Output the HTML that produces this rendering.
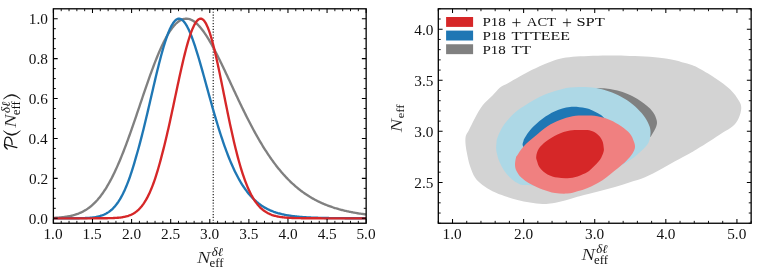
<!DOCTYPE html>
<html><head><meta charset="utf-8"><title>Neff posteriors</title>
<style>html,body{margin:0;padding:0;background:#fff;}svg{display:block;will-change:transform;}body{font-family:"Liberation Serif",serif;}</style>
</head><body>
<svg width="759" height="272" viewBox="0 0 759 272">
<rect width="759" height="272" fill="#fff"/>
<defs><clipPath id="cl"><rect x="53.4" y="8.8" width="312.75" height="214.45"/></clipPath>
<clipPath id="cr"><rect x="438.3" y="8.8" width="312.84999999999997" height="214.45"/></clipPath></defs>
<g clip-path="url(#cl)" fill="none" stroke-width="2.35" stroke-linejoin="round">
<line x1="213.22" y1="8.8" x2="213.22" y2="223.25" stroke="#111" stroke-width="1.15" stroke-dasharray="1.15,1.7"/>
<path d="M53.40,217.90 L54.18,217.86 L54.96,217.82 L55.75,217.78 L56.53,217.73 L57.31,217.68 L58.09,217.62 L58.87,217.56 L59.66,217.50 L60.44,217.43 L61.22,217.35 L62.00,217.27 L62.78,217.18 L63.56,217.09 L64.35,216.99 L65.13,216.89 L65.91,216.77 L66.69,216.65 L67.47,216.52 L68.26,216.39 L69.04,216.24 L69.82,216.08 L70.60,215.92 L71.38,215.74 L72.16,215.55 L72.95,215.35 L73.73,215.14 L74.51,214.92 L75.29,214.68 L76.07,214.43 L76.86,214.16 L77.64,213.88 L78.42,213.59 L79.20,213.28 L79.98,212.95 L80.77,212.60 L81.55,212.24 L82.33,211.86 L83.11,211.45 L83.89,211.03 L84.67,210.59 L85.46,210.13 L86.24,209.64 L87.02,209.13 L87.80,208.60 L88.58,208.05 L89.37,207.47 L90.15,206.86 L90.93,206.23 L91.71,205.57 L92.49,204.89 L93.28,204.17 L94.06,203.43 L94.84,202.66 L95.62,201.86 L96.40,201.03 L97.19,200.17 L97.97,199.28 L98.75,198.35 L99.53,197.40 L100.31,196.41 L101.09,195.38 L101.88,194.33 L102.66,193.24 L103.44,192.12 L104.22,190.96 L105.00,189.76 L105.79,188.54 L106.57,187.27 L107.35,185.97 L108.13,184.64 L108.91,183.27 L109.69,181.86 L110.48,180.42 L111.26,178.95 L112.04,177.43 L112.82,175.89 L113.60,174.30 L114.39,172.69 L115.17,171.04 L115.95,169.35 L116.73,167.63 L117.51,165.88 L118.30,164.09 L119.08,162.27 L119.86,160.42 L120.64,158.54 L121.42,156.63 L122.20,154.68 L122.99,152.71 L123.77,150.71 L124.55,148.69 L125.33,146.63 L126.11,144.56 L126.90,142.45 L127.68,140.33 L128.46,138.18 L129.24,136.01 L130.02,133.82 L130.81,131.62 L131.59,129.39 L132.37,127.15 L133.15,124.90 L133.93,122.63 L134.72,120.35 L135.50,118.06 L136.28,115.77 L137.06,113.46 L137.84,111.15 L138.62,108.84 L139.41,106.52 L140.19,104.20 L140.97,101.88 L141.75,99.57 L142.53,97.25 L143.32,94.95 L144.10,92.65 L144.88,90.36 L145.66,88.08 L146.44,85.81 L147.23,83.56 L148.01,81.32 L148.79,79.10 L149.57,76.90 L150.35,74.72 L151.13,72.56 L151.92,70.43 L152.70,68.32 L153.48,66.23 L154.26,64.18 L155.04,62.16 L155.83,60.16 L156.61,58.20 L157.39,56.28 L158.17,54.39 L158.95,52.54 L159.74,50.73 L160.52,48.95 L161.30,47.22 L162.08,45.53 L162.86,43.89 L163.64,42.28 L164.43,40.73 L165.21,39.22 L165.99,37.76 L166.77,36.35 L167.55,34.99 L168.34,33.68 L169.12,32.42 L169.90,31.21 L170.68,30.05 L171.46,28.95 L172.25,27.91 L173.03,26.91 L173.81,25.98 L174.59,25.09 L175.37,24.27 L176.15,23.50 L176.94,22.79 L177.72,22.13 L178.50,21.54 L179.28,20.99 L180.06,20.51 L180.85,20.08 L181.63,19.72 L182.41,19.40 L183.19,19.15 L183.97,18.95 L184.75,18.81 L185.54,18.73 L186.32,18.70 L187.10,18.73 L187.88,18.82 L188.66,18.97 L189.45,19.17 L190.23,19.43 L191.01,19.75 L191.79,20.12 L192.57,20.54 L193.36,21.02 L194.14,21.55 L194.92,22.13 L195.70,22.76 L196.48,23.44 L197.26,24.17 L198.05,24.94 L198.83,25.76 L199.61,26.62 L200.39,27.52 L201.17,28.47 L201.96,29.46 L202.74,30.48 L203.52,31.55 L204.30,32.65 L205.08,33.79 L205.87,34.96 L206.65,36.16 L207.43,37.40 L208.21,38.67 L208.99,39.96 L209.78,41.29 L210.56,42.64 L211.34,44.02 L212.12,45.43 L212.90,46.85 L213.68,48.30 L214.47,49.77 L215.25,51.26 L216.03,52.77 L216.81,54.30 L217.59,55.85 L218.38,57.41 L219.16,58.98 L219.94,60.57 L220.72,62.17 L221.50,63.79 L222.29,65.41 L223.07,67.05 L223.85,68.69 L224.63,70.34 L225.41,71.99 L226.19,73.66 L226.98,75.32 L227.76,76.99 L228.54,78.67 L229.32,80.35 L230.10,82.02 L230.89,83.70 L231.67,85.38 L232.45,87.06 L233.23,88.74 L234.01,90.41 L234.79,92.09 L235.58,93.75 L236.36,95.42 L237.14,97.08 L237.92,98.73 L238.70,100.38 L239.49,102.02 L240.27,103.66 L241.05,105.29 L241.83,106.91 L242.61,108.52 L243.40,110.12 L244.18,111.71 L244.96,113.30 L245.74,114.87 L246.52,116.43 L247.31,117.98 L248.09,119.52 L248.87,121.05 L249.65,122.57 L250.43,124.07 L251.21,125.56 L252.00,127.04 L252.78,128.50 L253.56,129.96 L254.34,131.39 L255.12,132.82 L255.91,134.23 L256.69,135.63 L257.47,137.01 L258.25,138.38 L259.03,139.73 L259.81,141.07 L260.60,142.39 L261.38,143.70 L262.16,144.99 L262.94,146.27 L263.72,147.54 L264.51,148.79 L265.29,150.02 L266.07,151.24 L266.85,152.44 L267.63,153.63 L268.42,154.80 L269.20,155.95 L269.98,157.09 L270.76,158.22 L271.54,159.33 L272.32,160.43 L273.11,161.50 L273.89,162.57 L274.67,163.62 L275.45,164.65 L276.23,165.67 L277.02,166.68 L277.80,167.67 L278.58,168.64 L279.36,169.60 L280.14,170.54 L280.93,171.47 L281.71,172.39 L282.49,173.29 L283.27,174.18 L284.05,175.05 L284.83,175.91 L285.62,176.76 L286.40,177.59 L287.18,178.41 L287.96,179.21 L288.74,180.00 L289.53,180.78 L290.31,181.54 L291.09,182.30 L291.87,183.03 L292.65,183.76 L293.44,184.47 L294.22,185.17 L295.00,185.86 L295.78,186.54 L296.56,187.20 L297.35,187.86 L298.13,188.50 L298.91,189.13 L299.69,189.74 L300.47,190.35 L301.25,190.94 L302.04,191.53 L302.82,192.10 L303.60,192.66 L304.38,193.22 L305.16,193.76 L305.95,194.29 L306.73,194.81 L307.51,195.32 L308.29,195.82 L309.07,196.31 L309.85,196.80 L310.64,197.27 L311.42,197.73 L312.20,198.19 L312.98,198.63 L313.76,199.07 L314.55,199.50 L315.33,199.92 L316.11,200.33 L316.89,200.73 L317.67,201.13 L318.46,201.51 L319.24,201.89 L320.02,202.26 L320.80,202.63 L321.58,202.98 L322.36,203.33 L323.15,203.67 L323.93,204.01 L324.71,204.33 L325.49,204.65 L326.27,204.97 L327.06,205.27 L327.84,205.57 L328.62,205.87 L329.40,206.16 L330.18,206.44 L330.97,206.71 L331.75,206.98 L332.53,207.25 L333.31,207.51 L334.09,207.76 L334.87,208.01 L335.66,208.25 L336.44,208.49 L337.22,208.72 L338.00,208.94 L338.78,209.17 L339.57,209.38 L340.35,209.59 L341.13,209.80 L341.91,210.00 L342.69,210.20 L343.48,210.39 L344.26,210.58 L345.04,210.77 L345.82,210.95 L346.60,211.13 L347.38,211.30 L348.17,211.47 L348.95,211.63 L349.73,211.80 L350.51,211.95 L351.29,212.11 L352.08,212.26 L352.86,212.40 L353.64,212.55 L354.42,212.69 L355.20,212.83 L355.99,212.96 L356.77,213.09 L357.55,213.22 L358.33,213.34 L359.11,213.47 L359.89,213.58 L360.68,213.70 L361.46,213.81 L362.24,213.93 L363.02,214.03 L363.80,214.14 L364.59,214.24 L365.37,214.34 L366.15,214.44" stroke="#808080"/>
<path d="M53.40,218.30 L54.18,218.30 L54.96,218.30 L55.75,218.30 L56.53,218.30 L57.31,218.30 L58.09,218.30 L58.87,218.30 L59.66,218.30 L60.44,218.30 L61.22,218.30 L62.00,218.30 L62.78,218.30 L63.56,218.30 L64.35,218.30 L65.13,218.29 L65.91,218.29 L66.69,218.29 L67.47,218.29 L68.26,218.29 L69.04,218.29 L69.82,218.29 L70.60,218.28 L71.38,218.28 L72.16,218.28 L72.95,218.27 L73.73,218.27 L74.51,218.26 L75.29,218.26 L76.07,218.25 L76.86,218.24 L77.64,218.23 L78.42,218.22 L79.20,218.21 L79.98,218.20 L80.77,218.18 L81.55,218.16 L82.33,218.14 L83.11,218.12 L83.89,218.10 L84.67,218.07 L85.46,218.03 L86.24,218.00 L87.02,217.96 L87.80,217.91 L88.58,217.86 L89.37,217.80 L90.15,217.74 L90.93,217.67 L91.71,217.59 L92.49,217.51 L93.28,217.41 L94.06,217.30 L94.84,217.19 L95.62,217.06 L96.40,216.92 L97.19,216.76 L97.97,216.59 L98.75,216.40 L99.53,216.20 L100.31,215.98 L101.09,215.73 L101.88,215.47 L102.66,215.18 L103.44,214.87 L104.22,214.53 L105.00,214.16 L105.79,213.76 L106.57,213.34 L107.35,212.88 L108.13,212.38 L108.91,211.85 L109.69,211.28 L110.48,210.66 L111.26,210.01 L112.04,209.31 L112.82,208.56 L113.60,207.76 L114.39,206.92 L115.17,206.02 L115.95,205.06 L116.73,204.05 L117.51,202.98 L118.30,201.85 L119.08,200.65 L119.86,199.39 L120.64,198.06 L121.42,196.67 L122.20,195.21 L122.99,193.67 L123.77,192.07 L124.55,190.39 L125.33,188.64 L126.11,186.81 L126.90,184.90 L127.68,182.92 L128.46,180.86 L129.24,178.73 L130.02,176.52 L130.81,174.23 L131.59,171.86 L132.37,169.42 L133.15,166.91 L133.93,164.32 L134.72,161.66 L135.50,158.93 L136.28,156.18 L137.06,153.50 L137.84,150.75 L138.62,147.95 L139.41,145.08 L140.19,142.15 L140.97,139.17 L141.75,136.14 L142.53,133.06 L143.32,129.93 L144.10,126.76 L144.88,123.54 L145.66,120.30 L146.44,117.02 L147.23,113.71 L148.01,110.37 L148.79,107.02 L149.57,103.66 L150.35,100.28 L151.13,96.90 L151.92,93.52 L152.70,90.14 L153.48,86.78 L154.26,83.43 L155.04,80.11 L155.83,76.82 L156.61,73.56 L157.39,70.33 L158.17,67.16 L158.95,64.04 L159.74,60.98 L160.52,57.98 L161.30,55.05 L162.08,52.20 L162.86,49.43 L163.64,46.74 L164.43,44.15 L165.21,41.66 L165.99,39.28 L166.77,37.00 L167.55,34.84 L168.34,32.79 L169.12,30.87 L169.90,29.08 L170.68,27.42 L171.46,25.89 L172.25,24.51 L173.03,23.26 L173.81,22.17 L174.59,21.21 L175.37,20.41 L176.15,19.76 L176.94,19.27 L177.72,18.92 L178.50,18.74 L179.28,18.71 L180.06,18.83 L180.85,19.11 L181.63,19.54 L182.41,20.11 L183.19,20.83 L183.97,21.69 L184.75,22.69 L185.54,23.81 L186.32,25.07 L187.10,26.45 L187.88,27.94 L188.66,29.55 L189.45,31.27 L190.23,33.10 L191.01,35.02 L191.79,37.03 L192.57,39.13 L193.36,41.32 L194.14,43.59 L194.92,45.92 L195.70,48.33 L196.48,50.79 L197.26,53.32 L198.05,55.89 L198.83,58.52 L199.61,61.18 L200.39,63.89 L201.17,66.62 L201.96,69.39 L202.74,72.18 L203.52,74.98 L204.30,77.81 L205.08,80.64 L205.87,83.48 L206.65,86.33 L207.43,89.17 L208.21,92.01 L208.99,94.85 L209.78,97.67 L210.56,100.49 L211.34,103.28 L212.12,106.06 L212.90,108.81 L213.68,111.55 L214.47,114.25 L215.25,116.93 L216.03,119.58 L216.81,122.19 L217.59,124.77 L218.38,127.32 L219.16,129.83 L219.94,132.30 L220.72,134.74 L221.50,137.13 L222.29,139.48 L223.07,141.79 L223.85,144.06 L224.63,146.28 L225.41,148.46 L226.19,150.60 L226.98,152.69 L227.76,154.74 L228.54,156.74 L229.32,158.69 L230.10,160.61 L230.89,162.47 L231.67,164.29 L232.45,166.07 L233.23,167.80 L234.01,169.49 L234.79,171.14 L235.58,172.74 L236.36,174.30 L237.14,175.81 L237.92,177.29 L238.70,178.72 L239.49,180.12 L240.27,181.47 L241.05,182.78 L241.83,184.05 L242.61,185.29 L243.40,186.49 L244.18,187.65 L244.96,188.78 L245.74,189.87 L246.52,190.92 L247.31,191.95 L248.09,192.94 L248.87,193.89 L249.65,194.82 L250.43,195.72 L251.21,196.58 L252.00,197.42 L252.78,198.22 L253.56,199.00 L254.34,199.76 L255.12,200.48 L255.91,201.18 L256.69,201.86 L257.47,202.51 L258.25,203.14 L259.03,203.75 L259.81,204.33 L260.60,204.89 L261.38,205.44 L262.16,205.96 L262.94,206.46 L263.72,206.94 L264.51,207.41 L265.29,207.86 L266.07,208.29 L266.85,208.70 L267.63,209.10 L268.42,209.48 L269.20,209.85 L269.98,210.21 L270.76,210.55 L271.54,210.87 L272.32,211.19 L273.11,211.49 L273.89,211.78 L274.67,212.05 L275.45,212.32 L276.23,212.58 L277.02,212.82 L277.80,213.06 L278.58,213.28 L279.36,213.50 L280.14,213.71 L280.93,213.91 L281.71,214.10 L282.49,214.28 L283.27,214.45 L284.05,214.62 L284.83,214.78 L285.62,214.94 L286.40,215.08 L287.18,215.23 L287.96,215.36 L288.74,215.49 L289.53,215.62 L290.31,215.73 L291.09,215.85 L291.87,215.96 L292.65,216.06 L293.44,216.16 L294.22,216.26 L295.00,216.35 L295.78,216.43 L296.56,216.52 L297.35,216.60 L298.13,216.67 L298.91,216.75 L299.69,216.82 L300.47,216.88 L301.25,216.95 L302.04,217.01 L302.82,217.07 L303.60,217.12 L304.38,217.18 L305.16,217.23 L305.95,217.28 L306.73,217.32 L307.51,217.37 L308.29,217.41 L309.07,217.45 L309.85,217.49 L310.64,217.52 L311.42,217.56 L312.20,217.59 L312.98,217.63 L313.76,217.66 L314.55,217.69 L315.33,217.71 L316.11,217.74 L316.89,217.77 L317.67,217.79 L318.46,217.81 L319.24,217.84 L320.02,217.86 L320.80,217.88 L321.58,217.90 L322.36,217.92 L323.15,217.93 L323.93,217.95 L324.71,217.97 L325.49,217.98 L326.27,218.00 L327.06,218.01 L327.84,218.02 L328.62,218.04 L329.40,218.05 L330.18,218.06 L330.97,218.07 L331.75,218.08 L332.53,218.09 L333.31,218.10 L334.09,218.11 L334.87,218.12 L335.66,218.13 L336.44,218.14 L337.22,218.14 L338.00,218.15 L338.78,218.16 L339.57,218.16 L340.35,218.17 L341.13,218.18 L341.91,218.18 L342.69,218.19 L343.48,218.19 L344.26,218.20 L345.04,218.20 L345.82,218.21 L346.60,218.21 L347.38,218.21 L348.17,218.22 L348.95,218.22 L349.73,218.23 L350.51,218.23 L351.29,218.23 L352.08,218.24 L352.86,218.24 L353.64,218.24 L354.42,218.24 L355.20,218.25 L355.99,218.25 L356.77,218.25 L357.55,218.25 L358.33,218.26 L359.11,218.26 L359.89,218.26 L360.68,218.26 L361.46,218.26 L362.24,218.27 L363.02,218.27 L363.80,218.27 L364.59,218.27 L365.37,218.27 L366.15,218.27" stroke="#1f77b4"/>
<path d="M53.40,218.30 L54.18,218.30 L54.96,218.30 L55.75,218.30 L56.53,218.30 L57.31,218.30 L58.09,218.30 L58.87,218.30 L59.66,218.30 L60.44,218.30 L61.22,218.30 L62.00,218.30 L62.78,218.30 L63.56,218.30 L64.35,218.30 L65.13,218.30 L65.91,218.30 L66.69,218.30 L67.47,218.30 L68.26,218.30 L69.04,218.30 L69.82,218.30 L70.60,218.30 L71.38,218.30 L72.16,218.30 L72.95,218.30 L73.73,218.30 L74.51,218.30 L75.29,218.30 L76.07,218.30 L76.86,218.30 L77.64,218.30 L78.42,218.30 L79.20,218.30 L79.98,218.30 L80.77,218.30 L81.55,218.30 L82.33,218.30 L83.11,218.30 L83.89,218.30 L84.67,218.30 L85.46,218.30 L86.24,218.30 L87.02,218.30 L87.80,218.30 L88.58,218.30 L89.37,218.30 L90.15,218.30 L90.93,218.30 L91.71,218.30 L92.49,218.30 L93.28,218.30 L94.06,218.29 L94.84,218.29 L95.62,218.29 L96.40,218.29 L97.19,218.29 L97.97,218.29 L98.75,218.28 L99.53,218.28 L100.31,218.28 L101.09,218.27 L101.88,218.27 L102.66,218.27 L103.44,218.26 L104.22,218.25 L105.00,218.24 L105.79,218.24 L106.57,218.23 L107.35,218.21 L108.13,218.20 L108.91,218.18 L109.69,218.17 L110.48,218.15 L111.26,218.12 L112.04,218.10 L112.82,218.07 L113.60,218.03 L114.39,218.00 L115.17,217.95 L115.95,217.90 L116.73,217.85 L117.51,217.79 L118.30,217.72 L119.08,217.65 L119.86,217.56 L120.64,217.47 L121.42,217.36 L122.20,217.25 L122.99,217.12 L123.77,216.97 L124.55,216.82 L125.33,216.64 L126.11,216.45 L126.90,216.24 L127.68,216.01 L128.46,215.76 L129.24,215.48 L130.02,215.18 L130.81,214.85 L131.59,214.49 L132.37,214.10 L133.15,213.68 L133.93,213.22 L134.72,212.72 L135.50,212.18 L136.28,211.60 L137.06,210.98 L137.84,210.31 L138.62,209.59 L139.41,208.81 L140.19,207.99 L140.97,207.10 L141.75,206.16 L142.53,205.15 L143.32,204.08 L144.10,202.94 L144.88,201.73 L145.66,200.45 L146.44,199.10 L147.23,197.67 L148.01,196.16 L148.79,194.57 L149.57,192.90 L150.35,191.14 L151.13,189.30 L151.92,187.38 L152.70,185.36 L153.48,183.26 L154.26,181.07 L155.04,178.79 L155.83,176.42 L156.61,173.96 L157.39,171.41 L158.17,168.77 L158.95,166.05 L159.74,163.24 L160.52,160.34 L161.30,157.36 L162.08,154.39 L162.86,151.41 L163.64,148.35 L164.43,145.23 L165.21,142.04 L165.99,138.78 L166.77,135.46 L167.55,132.08 L168.34,128.65 L169.12,125.17 L169.90,121.64 L170.68,118.07 L171.46,114.47 L172.25,110.84 L173.03,107.18 L173.81,103.51 L174.59,99.82 L175.37,96.13 L176.15,92.44 L176.94,88.76 L177.72,85.10 L178.50,81.46 L179.28,77.85 L180.06,74.28 L180.85,70.76 L181.63,67.29 L182.41,63.88 L183.19,60.55 L183.97,57.29 L184.75,54.11 L185.54,51.03 L186.32,48.05 L187.10,45.18 L187.88,42.42 L188.66,39.79 L189.45,37.28 L190.23,34.91 L191.01,32.68 L191.79,30.60 L192.57,28.67 L193.36,26.90 L194.14,25.29 L194.92,23.85 L195.70,22.58 L196.48,21.49 L197.26,20.57 L198.05,19.83 L198.83,19.28 L199.61,18.91 L200.39,18.72 L201.17,18.73 L201.96,18.96 L202.74,19.41 L203.52,20.08 L204.30,20.98 L205.08,22.08 L205.87,23.40 L206.65,24.93 L207.43,26.65 L208.21,28.56 L208.99,30.66 L209.78,32.94 L210.56,35.39 L211.34,38.00 L212.12,40.76 L212.90,43.66 L213.68,46.70 L214.47,49.86 L215.25,53.13 L216.03,56.51 L216.81,59.99 L217.59,63.54 L218.38,67.18 L219.16,70.88 L219.94,74.63 L220.72,78.43 L221.50,82.26 L222.29,86.13 L223.07,90.01 L223.85,93.90 L224.63,97.78 L225.41,101.67 L226.19,105.53 L226.98,109.38 L227.76,113.19 L228.54,116.97 L229.32,120.70 L230.10,124.39 L230.89,128.02 L231.67,131.60 L232.45,135.11 L233.23,138.55 L234.01,141.92 L234.79,145.21 L235.58,148.43 L236.36,151.57 L237.14,154.62 L237.92,157.59 L238.70,160.47 L239.49,163.26 L240.27,165.97 L241.05,168.59 L241.83,171.11 L242.61,173.55 L243.40,175.90 L244.18,178.16 L244.96,180.33 L245.74,182.42 L246.52,184.42 L247.31,186.33 L248.09,188.17 L248.87,189.92 L249.65,191.59 L250.43,193.18 L251.21,194.70 L252.00,196.15 L252.78,197.52 L253.56,198.83 L254.34,200.06 L255.12,201.24 L255.91,202.35 L256.69,203.39 L257.47,204.39 L258.25,205.32 L259.03,206.20 L259.81,207.04 L260.60,207.82 L261.38,208.55 L262.16,209.24 L262.94,209.89 L263.72,210.50 L264.51,211.07 L265.29,211.60 L266.07,212.10 L266.85,212.57 L267.63,213.00 L268.42,213.41 L269.20,213.78 L269.98,214.13 L270.76,214.46 L271.54,214.77 L272.32,215.05 L273.11,215.31 L273.89,215.55 L274.67,215.78 L275.45,215.98 L276.23,216.18 L277.02,216.35 L277.80,216.52 L278.58,216.67 L279.36,216.81 L280.14,216.94 L280.93,217.06 L281.71,217.17 L282.49,217.27 L283.27,217.36 L284.05,217.44 L284.83,217.52 L285.62,217.59 L286.40,217.65 L287.18,217.71 L287.96,217.77 L288.74,217.82 L289.53,217.86 L290.31,217.90 L291.09,217.94 L291.87,217.97 L292.65,218.01 L293.44,218.03 L294.22,218.06 L295.00,218.08 L295.78,218.10 L296.56,218.12 L297.35,218.14 L298.13,218.16 L298.91,218.17 L299.69,218.18 L300.47,218.20 L301.25,218.21 L302.04,218.22 L302.82,218.22 L303.60,218.23 L304.38,218.24 L305.16,218.25 L305.95,218.25 L306.73,218.26 L307.51,218.26 L308.29,218.27 L309.07,218.27 L309.85,218.27 L310.64,218.28 L311.42,218.28 L312.20,218.28 L312.98,218.28 L313.76,218.28 L314.55,218.29 L315.33,218.29 L316.11,218.29 L316.89,218.29 L317.67,218.29 L318.46,218.29 L319.24,218.29 L320.02,218.29 L320.80,218.29 L321.58,218.30 L322.36,218.30 L323.15,218.30 L323.93,218.30 L324.71,218.30 L325.49,218.30 L326.27,218.30 L327.06,218.30 L327.84,218.30 L328.62,218.30 L329.40,218.30 L330.18,218.30 L330.97,218.30 L331.75,218.30 L332.53,218.30 L333.31,218.30 L334.09,218.30 L334.87,218.30 L335.66,218.30 L336.44,218.30 L337.22,218.30 L338.00,218.30 L338.78,218.30 L339.57,218.30 L340.35,218.30 L341.13,218.30 L341.91,218.30 L342.69,218.30 L343.48,218.30 L344.26,218.30 L345.04,218.30 L345.82,218.30 L346.60,218.30 L347.38,218.30 L348.17,218.30 L348.95,218.30 L349.73,218.30 L350.51,218.30 L351.29,218.30 L352.08,218.30 L352.86,218.30 L353.64,218.30 L354.42,218.30 L355.20,218.30 L355.99,218.30 L356.77,218.30 L357.55,218.30 L358.33,218.30 L359.11,218.30 L359.89,218.30 L360.68,218.30 L361.46,218.30 L362.24,218.30 L363.02,218.30 L363.80,218.30 L364.59,218.30 L365.37,218.30 L366.15,218.30" stroke="#d62728"/>
</g>
<path d="M61.22,223.25v-2.4M61.22,8.8v2.4M69.04,223.25v-2.4M69.04,8.8v2.4M76.86,223.25v-2.4M76.86,8.8v2.4M84.67,223.25v-2.4M84.67,8.8v2.4M100.31,223.25v-2.4M100.31,8.8v2.4M108.13,223.25v-2.4M108.13,8.8v2.4M115.95,223.25v-2.4M115.95,8.8v2.4M123.77,223.25v-2.4M123.77,8.8v2.4M139.41,223.25v-2.4M139.41,8.8v2.4M147.23,223.25v-2.4M147.23,8.8v2.4M155.04,223.25v-2.4M155.04,8.8v2.4M162.86,223.25v-2.4M162.86,8.8v2.4M178.50,223.25v-2.4M178.50,8.8v2.4M186.32,223.25v-2.4M186.32,8.8v2.4M194.14,223.25v-2.4M194.14,8.8v2.4M201.96,223.25v-2.4M201.96,8.8v2.4M217.59,223.25v-2.4M217.59,8.8v2.4M225.41,223.25v-2.4M225.41,8.8v2.4M233.23,223.25v-2.4M233.23,8.8v2.4M241.05,223.25v-2.4M241.05,8.8v2.4M256.69,223.25v-2.4M256.69,8.8v2.4M264.51,223.25v-2.4M264.51,8.8v2.4M272.32,223.25v-2.4M272.32,8.8v2.4M280.14,223.25v-2.4M280.14,8.8v2.4M295.78,223.25v-2.4M295.78,8.8v2.4M303.60,223.25v-2.4M303.60,8.8v2.4M311.42,223.25v-2.4M311.42,8.8v2.4M319.24,223.25v-2.4M319.24,8.8v2.4M334.87,223.25v-2.4M334.87,8.8v2.4M342.69,223.25v-2.4M342.69,8.8v2.4M350.51,223.25v-2.4M350.51,8.8v2.4M358.33,223.25v-2.4M358.33,8.8v2.4M53.4,208.32h2.4M366.15,208.32h-2.4M53.4,198.34h2.4M366.15,198.34h-2.4M53.4,188.36h2.4M366.15,188.36h-2.4M53.4,168.40h2.4M366.15,168.40h-2.4M53.4,158.42h2.4M366.15,158.42h-2.4M53.4,148.44h2.4M366.15,148.44h-2.4M53.4,128.48h2.4M366.15,128.48h-2.4M53.4,118.50h2.4M366.15,118.50h-2.4M53.4,108.52h2.4M366.15,108.52h-2.4M53.4,88.56h2.4M366.15,88.56h-2.4M53.4,78.58h2.4M366.15,78.58h-2.4M53.4,68.60h2.4M366.15,68.60h-2.4M53.4,48.64h2.4M366.15,48.64h-2.4M53.4,38.66h2.4M366.15,38.66h-2.4M53.4,28.68h2.4M366.15,28.68h-2.4" stroke="#000" stroke-width="0.924" fill="none"/>
<path d="M53.40,223.25v-4.3M53.40,8.8v4.3M92.49,223.25v-4.3M92.49,8.8v4.3M131.59,223.25v-4.3M131.59,8.8v4.3M170.68,223.25v-4.3M170.68,8.8v4.3M209.78,223.25v-4.3M209.78,8.8v4.3M248.87,223.25v-4.3M248.87,8.8v4.3M287.96,223.25v-4.3M287.96,8.8v4.3M327.06,223.25v-4.3M327.06,8.8v4.3M366.15,223.25v-4.3M366.15,8.8v4.3M53.4,218.30h4.3M366.15,218.30h-4.3M53.4,178.38h4.3M366.15,178.38h-4.3M53.4,138.46h4.3M366.15,138.46h-4.3M53.4,98.54h4.3M366.15,98.54h-4.3M53.4,58.62h4.3M366.15,58.62h-4.3M53.4,18.70h4.3M366.15,18.70h-4.3" stroke="#000" stroke-width="1.05" fill="none"/>
<rect x="53.4" y="8.8" width="312.75" height="214.45" fill="none" stroke="#000" stroke-width="1.3"/>
<text transform="translate(43.44,239.10) scale(1.12,1)" font-size="13.68" font-family="Liberation Serif, serif" fill="#111">1.0</text>
<text transform="translate(82.54,239.10) scale(1.12,1)" font-size="13.68" font-family="Liberation Serif, serif" fill="#111">1.5</text>
<text transform="translate(121.96,239.10) scale(1.12,1)" font-size="13.68" font-family="Liberation Serif, serif" fill="#111">2.0</text>
<text transform="translate(161.06,239.10) scale(1.12,1)" font-size="13.68" font-family="Liberation Serif, serif" fill="#111">2.5</text>
<text transform="translate(200.12,239.10) scale(1.12,1)" font-size="13.68" font-family="Liberation Serif, serif" fill="#111">3.0</text>
<text transform="translate(239.22,239.10) scale(1.12,1)" font-size="13.68" font-family="Liberation Serif, serif" fill="#111">3.5</text>
<text transform="translate(278.53,239.10) scale(1.12,1)" font-size="13.68" font-family="Liberation Serif, serif" fill="#111">4.0</text>
<text transform="translate(317.63,239.10) scale(1.12,1)" font-size="13.68" font-family="Liberation Serif, serif" fill="#111">4.5</text>
<text transform="translate(356.42,239.10) scale(1.12,1)" font-size="13.68" font-family="Liberation Serif, serif" fill="#111">5.0</text>
<text transform="translate(28.83,223.65) scale(1.12,1)" font-size="13.68" font-family="Liberation Serif, serif" fill="#111">0.0</text>
<text transform="translate(29.09,183.73) scale(1.12,1)" font-size="13.68" font-family="Liberation Serif, serif" fill="#111">0.2</text>
<text transform="translate(28.48,143.81) scale(1.12,1)" font-size="13.68" font-family="Liberation Serif, serif" fill="#111">0.4</text>
<text transform="translate(28.70,103.89) scale(1.12,1)" font-size="13.68" font-family="Liberation Serif, serif" fill="#111">0.6</text>
<text transform="translate(28.83,63.97) scale(1.12,1)" font-size="13.68" font-family="Liberation Serif, serif" fill="#111">0.8</text>
<text transform="translate(28.83,24.05) scale(1.12,1)" font-size="13.68" font-family="Liberation Serif, serif" fill="#111">1.0</text>
<text transform="translate(197.05,262.60) scale(1.195,1)" font-size="16.95" font-style="italic" font-family="Liberation Serif, serif" fill="#111" stroke="#fff" stroke-width="0.16">N</text><text transform="translate(211.82,256.20) scale(1.083,1)" font-size="11.88" font-style="italic" font-family="Liberation Serif, serif" fill="#111">δℓ</text><text transform="translate(209.60,266.70) scale(1.120,1)" font-size="11.50" font-family="Liberation Serif, serif" fill="#111">eff</text>
<g transform="translate(15.9,150) rotate(-90)">
<path d="M2.4,1.0L5.7,-11.4M5.6,-11.3C8,-11.2 11.6,-11.6 12.7,-9.2C13.5,-7 12,-5 9,-4.2C8,-4 7,-3.8 5.6,-3.8M5.8,-11.4C4,-11.8 2.3,-10.8 0.9,-8.7" fill="none" stroke="#111" stroke-width="1.25" stroke-linecap="round" stroke-linejoin="round"/>
<path d="M19.2,-12.5Q10.0,-4 19.2,4.5Q12.1,-4 19.2,-12.5Z" fill="#111" stroke="#111" stroke-width="0.5" stroke-linejoin="round"/>
<text transform="translate(22.15,0.00) scale(1.195,1)" font-size="16.95" font-style="italic" font-family="Liberation Serif, serif" fill="#111" stroke="#fff" stroke-width="0.16">N</text><text transform="translate(36.92,-6.40) scale(1.083,1)" font-size="11.88" font-style="italic" font-family="Liberation Serif, serif" fill="#111">δℓ</text><text transform="translate(34.70,4.10) scale(1.120,1)" font-size="11.50" font-family="Liberation Serif, serif" fill="#111">eff</text>
<path d="M51.0,-12.5Q60.2,-4 51.0,4.5Q58.1,-4 51.0,-12.5Z" fill="#111" stroke="#111" stroke-width="0.5" stroke-linejoin="round"/>
</g>
<g clip-path="url(#cr)">
<path d="M531.60,70.10C536.87,67.47 542.67,64.89 547.40,63.00C552.13,61.11 555.78,59.80 560.00,58.75C564.22,57.70 567.95,57.18 572.70,56.70C577.45,56.23 582.70,56.10 588.50,55.90C594.30,55.70 601.42,55.53 607.50,55.50C613.58,55.47 618.75,55.52 625.00,55.70C631.25,55.88 638.53,56.18 645.00,56.60C651.47,57.02 658.80,57.58 663.80,58.20C668.80,58.82 671.80,59.58 675.00,60.30C678.20,61.02 680.33,61.75 683.00,62.50C685.67,63.25 688.58,63.95 691.00,64.80C693.42,65.65 693.50,65.40 697.50,67.60C701.50,69.80 709.58,74.39 715.00,78.00C720.42,81.61 726.04,85.50 730.00,89.25C733.96,93.00 736.88,97.38 738.75,100.50C740.62,103.62 741.25,105.08 741.25,108.00C741.25,110.92 740.12,115.00 738.75,118.00C737.38,121.00 735.71,123.53 733.00,126.00C730.29,128.47 726.33,130.30 722.50,132.80C718.67,135.30 714.17,138.33 710.00,141.00C705.83,143.67 700.83,146.77 697.50,148.80C694.17,150.83 693.75,151.13 690.00,153.20C686.25,155.27 680.00,158.44 675.00,161.20C670.00,163.96 665.00,167.07 660.00,169.75C655.00,172.43 650.00,175.17 645.00,177.25C640.00,179.33 635.00,180.62 630.00,182.25C625.00,183.88 620.00,185.54 615.00,187.00C610.00,188.46 605.00,189.71 600.00,191.00C595.00,192.29 589.17,193.67 585.00,194.75C580.83,195.83 578.33,196.54 575.00,197.50C571.67,198.46 568.75,199.54 565.00,200.50C561.25,201.46 556.25,202.67 552.50,203.25C548.75,203.83 546.25,204.12 542.50,204.00C538.75,203.88 534.17,203.17 530.00,202.50C525.83,201.83 521.67,201.04 517.50,200.00C513.33,198.96 509.17,197.71 505.00,196.25C500.83,194.79 496.25,193.12 492.50,191.25C488.75,189.38 485.42,187.29 482.50,185.00C479.58,182.71 477.08,180.67 475.00,177.50C472.92,174.33 471.33,170.00 470.00,166.00C468.67,162.00 467.75,157.25 467.00,153.50C466.25,149.75 465.70,146.42 465.50,143.50C465.30,140.58 465.26,138.17 465.80,136.00C466.34,133.83 467.22,133.50 468.75,130.50C470.28,127.50 472.71,122.17 475.00,118.00C477.29,113.83 479.58,109.25 482.50,105.50C485.42,101.75 489.58,98.50 492.50,95.50C495.42,92.50 497.50,89.52 500.00,87.50C502.50,85.48 504.87,84.85 507.50,83.40C510.13,81.95 511.78,81.02 515.80,78.80C519.82,76.58 526.33,72.73 531.60,70.10Z" fill="#d3d3d3"/>
<path d="M575.00,100.00C576.50,92.58 580.88,92.47 584.00,90.50C587.12,88.53 590.75,88.57 593.75,88.20C596.75,87.83 599.29,88.17 602.00,88.30C604.71,88.43 607.00,88.52 610.00,89.00C613.00,89.48 616.67,90.20 620.00,91.20C623.33,92.20 627.08,93.70 630.00,95.00C632.92,96.30 635.17,97.58 637.50,99.00C639.83,100.42 641.92,101.92 644.00,103.50C646.08,105.08 648.25,106.67 650.00,108.50C651.75,110.33 653.40,112.58 654.50,114.50C655.60,116.42 656.20,118.42 656.60,120.00C657.00,121.58 657.10,122.58 656.90,124.00C656.70,125.42 656.12,126.92 655.40,128.50C654.68,130.08 653.58,131.95 652.60,133.50C651.62,135.05 651.60,135.72 649.50,137.80C647.40,139.88 644.92,143.63 640.00,146.00C635.08,148.37 627.50,151.33 620.00,152.00C612.50,152.67 602.50,152.83 595.00,150.00C587.50,147.17 578.33,143.33 575.00,135.00C571.67,126.67 573.50,107.42 575.00,100.00Z" fill="#808080"/>
<path d="M585.00,87.00C590.00,87.21 595.00,87.62 600.00,88.75C605.00,89.88 610.42,91.79 615.00,93.75C619.58,95.71 623.75,98.00 627.50,100.50C631.25,103.00 634.58,105.92 637.50,108.75C640.42,111.58 643.00,114.58 645.00,117.50C647.00,120.42 648.58,123.54 649.50,126.25C650.42,128.96 650.65,131.04 650.50,133.75C650.35,136.46 649.75,139.99 648.60,142.50C647.45,145.01 645.60,146.68 643.60,148.80C641.60,150.92 639.03,153.20 636.60,155.20C634.17,157.20 631.43,159.17 629.00,160.80C626.57,162.43 626.83,162.63 622.00,165.00C617.17,167.37 610.33,171.50 600.00,175.00C589.67,178.50 572.50,184.33 560.00,186.00C547.50,187.67 531.88,185.38 525.00,185.00C518.12,184.62 521.04,184.79 518.75,183.75C516.46,182.71 513.75,181.04 511.25,178.75C508.75,176.46 505.83,173.12 503.75,170.00C501.67,166.88 500.00,163.33 498.75,160.00C497.50,156.67 496.62,152.83 496.25,150.00C495.88,147.17 496.29,145.08 496.50,143.00C496.71,140.92 496.29,140.50 497.50,137.50C498.71,134.50 500.83,129.17 503.75,125.00C506.67,120.83 511.46,115.75 515.00,112.50C518.54,109.25 520.83,108.12 525.00,105.50C529.17,102.88 535.00,99.17 540.00,96.75C545.00,94.33 550.00,92.54 555.00,91.00C560.00,89.46 565.00,88.17 570.00,87.50C575.00,86.83 580.00,86.79 585.00,87.00Z" fill="#add8e6"/>
<path d="M585.00,108.00C588.75,108.58 590.00,109.42 592.50,110.50C595.00,111.58 598.12,113.33 600.00,114.50C601.88,115.67 601.25,114.92 603.75,117.50C606.25,120.08 615.62,124.58 615.00,130.00C614.38,135.42 609.17,145.00 600.00,150.00C590.83,155.00 571.67,159.17 560.00,160.00C548.33,160.83 536.17,157.29 530.00,155.00C523.83,152.71 524.08,148.58 523.00,146.25C521.92,143.92 523.17,142.46 523.50,141.00C523.83,139.54 523.71,139.54 525.00,137.50C526.29,135.46 528.33,131.88 531.25,128.75C534.17,125.62 538.54,121.67 542.50,118.75C546.46,115.83 550.42,113.21 555.00,111.25C559.58,109.29 565.00,107.54 570.00,107.00C575.00,106.46 581.25,107.42 585.00,108.00Z" fill="#1f77b4"/>
<path d="M585.00,115.50C589.17,115.50 593.33,115.50 597.50,116.25C601.67,117.00 606.04,118.33 610.00,120.00C613.96,121.67 617.92,123.96 621.25,126.25C624.58,128.54 627.92,131.25 630.00,133.75C632.08,136.25 632.92,139.00 633.75,141.25C634.58,143.50 635.21,145.21 635.00,147.25C634.79,149.29 633.96,151.21 632.50,153.50C631.04,155.79 628.75,158.50 626.25,161.00C623.75,163.50 620.21,166.25 617.50,168.50C614.79,170.75 612.50,172.53 610.00,174.50C607.50,176.47 605.00,178.62 602.50,180.30C600.00,181.98 597.58,183.28 595.00,184.60C592.42,185.92 589.92,187.08 587.00,188.20C584.08,189.32 580.75,190.40 577.50,191.30C574.25,192.20 571.25,193.32 567.50,193.60C563.75,193.88 559.17,193.68 555.00,193.00C550.83,192.32 546.67,191.04 542.50,189.50C538.33,187.96 533.54,185.75 530.00,183.75C526.46,181.75 523.50,179.62 521.25,177.50C519.00,175.38 517.54,173.08 516.50,171.00C515.46,168.92 515.08,167.25 515.00,165.00C514.92,162.75 515.58,159.17 516.00,157.50C516.42,155.83 516.21,156.88 517.50,155.00C518.79,153.12 520.83,149.38 523.75,146.25C526.67,143.12 531.04,139.58 535.00,136.25C538.96,132.92 543.33,128.96 547.50,126.25C551.67,123.54 555.83,121.67 560.00,120.00C564.17,118.33 568.33,117.00 572.50,116.25C576.67,115.50 580.83,115.50 585.00,115.50Z" fill="#f08080"/>
<path d="M585.00,130.00C588.75,130.12 590.21,130.33 592.50,131.25C594.79,132.17 597.08,133.83 598.75,135.50C600.42,137.17 601.67,139.17 602.50,141.25C603.33,143.33 603.58,146.21 603.75,148.00C603.92,149.79 604.12,150.04 603.50,152.00C602.88,153.96 601.83,157.12 600.00,159.75C598.17,162.38 594.58,165.76 592.50,167.80C590.42,169.84 590.00,170.57 587.50,172.00C585.00,173.43 580.83,175.35 577.50,176.40C574.17,177.45 570.83,178.10 567.50,178.30C564.17,178.50 560.83,178.25 557.50,177.60C554.17,176.95 550.42,176.00 547.50,174.40C544.58,172.80 541.75,170.23 540.00,168.00C538.25,165.77 537.62,162.96 537.00,161.00C536.38,159.04 535.96,158.29 536.25,156.25C536.54,154.21 537.08,151.25 538.75,148.75C540.42,146.25 543.12,143.62 546.25,141.25C549.38,138.88 553.54,136.29 557.50,134.50C561.46,132.71 565.42,131.25 570.00,130.50C574.58,129.75 581.25,129.88 585.00,130.00Z" fill="#d62728"/>
</g>
<path d="M438.30,223.25v-2.4M438.30,8.8v2.4M466.74,223.25v-2.4M466.74,8.8v2.4M480.96,223.25v-2.4M480.96,8.8v2.4M495.18,223.25v-2.4M495.18,8.8v2.4M509.40,223.25v-2.4M509.40,8.8v2.4M537.84,223.25v-2.4M537.84,8.8v2.4M552.06,223.25v-2.4M552.06,8.8v2.4M566.28,223.25v-2.4M566.28,8.8v2.4M580.50,223.25v-2.4M580.50,8.8v2.4M608.95,223.25v-2.4M608.95,8.8v2.4M623.17,223.25v-2.4M623.17,8.8v2.4M637.39,223.25v-2.4M637.39,8.8v2.4M651.61,223.25v-2.4M651.61,8.8v2.4M680.05,223.25v-2.4M680.05,8.8v2.4M694.27,223.25v-2.4M694.27,8.8v2.4M708.49,223.25v-2.4M708.49,8.8v2.4M722.71,223.25v-2.4M722.71,8.8v2.4M751.15,223.25v-2.4M751.15,8.8v2.4M438.3,223.25h2.4M751.15,223.25h-2.4M438.3,213.04h2.4M751.15,213.04h-2.4M438.3,202.83h2.4M751.15,202.83h-2.4M438.3,192.61h2.4M751.15,192.61h-2.4M438.3,172.19h2.4M751.15,172.19h-2.4M438.3,161.98h2.4M751.15,161.98h-2.4M438.3,151.77h2.4M751.15,151.77h-2.4M438.3,141.55h2.4M751.15,141.55h-2.4M438.3,121.13h2.4M751.15,121.13h-2.4M438.3,110.92h2.4M751.15,110.92h-2.4M438.3,100.71h2.4M751.15,100.71h-2.4M438.3,90.50h2.4M751.15,90.50h-2.4M438.3,70.07h2.4M751.15,70.07h-2.4M438.3,59.86h2.4M751.15,59.86h-2.4M438.3,49.65h2.4M751.15,49.65h-2.4M438.3,39.44h2.4M751.15,39.44h-2.4M438.3,19.01h2.4M751.15,19.01h-2.4M438.3,8.80h2.4M751.15,8.80h-2.4" stroke="#000" stroke-width="0.924" fill="none"/>
<path d="M452.52,223.25v-4.3M452.52,8.8v4.3M523.62,223.25v-4.3M523.62,8.8v4.3M594.73,223.25v-4.3M594.73,8.8v4.3M665.83,223.25v-4.3M665.83,8.8v4.3M736.93,223.25v-4.3M736.93,8.8v4.3M438.3,182.40h4.3M751.15,182.40h-4.3M438.3,131.34h4.3M751.15,131.34h-4.3M438.3,80.28h4.3M751.15,80.28h-4.3M438.3,29.22h4.3M751.15,29.22h-4.3" stroke="#000" stroke-width="1.05" fill="none"/>
<rect x="438.3" y="8.8" width="312.84999999999997" height="214.45" fill="none" stroke="#000" stroke-width="1.3"/>
<text transform="translate(442.56,239.10) scale(1.12,1)" font-size="13.68" font-family="Liberation Serif, serif" fill="#111">1.0</text>
<text transform="translate(514.00,239.10) scale(1.12,1)" font-size="13.68" font-family="Liberation Serif, serif" fill="#111">2.0</text>
<text transform="translate(585.07,239.10) scale(1.12,1)" font-size="13.68" font-family="Liberation Serif, serif" fill="#111">3.0</text>
<text transform="translate(656.39,239.10) scale(1.12,1)" font-size="13.68" font-family="Liberation Serif, serif" fill="#111">4.0</text>
<text transform="translate(727.20,239.10) scale(1.12,1)" font-size="13.68" font-family="Liberation Serif, serif" fill="#111">5.0</text>
<text transform="translate(414.34,187.75) scale(1.12,1)" font-size="13.68" font-family="Liberation Serif, serif" fill="#111">2.5</text>
<text transform="translate(414.33,136.69) scale(1.12,1)" font-size="13.68" font-family="Liberation Serif, serif" fill="#111">3.0</text>
<text transform="translate(414.34,85.63) scale(1.12,1)" font-size="13.68" font-family="Liberation Serif, serif" fill="#111">3.5</text>
<text transform="translate(414.33,34.57) scale(1.12,1)" font-size="13.68" font-family="Liberation Serif, serif" fill="#111">4.0</text>
<rect x="446.1" y="17.00" width="27" height="9.9" fill="#d62728"/>
<text transform="translate(482.47,26.30) scale(1.191,1)" font-size="12.63" font-family="Liberation Serif, serif" fill="#111">P18</text>
<rect x="446.1" y="30.60" width="27" height="9.9" fill="#1f77b4"/>
<text transform="translate(482.47,39.90) scale(1.191,1)" font-size="12.63" font-family="Liberation Serif, serif" fill="#111">P18</text>
<rect x="446.1" y="44.25" width="27" height="9.9" fill="#808080"/>
<text transform="translate(482.47,53.55) scale(1.191,1)" font-size="12.63" font-family="Liberation Serif, serif" fill="#111">P18</text>
<path d="M512.3,22.6h8.2M516.4,18.5v8.2" stroke="#111" stroke-width="0.85" fill="none"/>
<text transform="translate(526.86,26.30) scale(1.150,1)" font-size="12.69" font-family="Liberation Serif, serif" fill="#111">ACT</text>
<path d="M562.9,22.6h8.2M567.0,18.5v8.2" stroke="#111" stroke-width="0.85" fill="none"/>
<text transform="translate(576.50,26.30) scale(1.293,1)" font-size="12.69" font-family="Liberation Serif, serif" fill="#111">SPT</text>
<text transform="translate(511.51,39.90) scale(1.244,1)" font-size="12.83" font-family="Liberation Serif, serif" fill="#111">TTTEEE</text>
<text transform="translate(511.51,53.55) scale(1.235,1)" font-size="12.83" font-family="Liberation Serif, serif" fill="#111">TT</text>
<text transform="translate(581.55,259.50) scale(1.195,1)" font-size="16.95" font-style="italic" font-family="Liberation Serif, serif" fill="#111" stroke="#fff" stroke-width="0.16">N</text><text transform="translate(596.32,253.10) scale(1.083,1)" font-size="11.88" font-style="italic" font-family="Liberation Serif, serif" fill="#111">δℓ</text><text transform="translate(594.10,263.60) scale(1.120,1)" font-size="11.50" font-family="Liberation Serif, serif" fill="#111">eff</text>
<g transform="translate(401.8,132.3) rotate(-90)">
<text transform="translate(0.15,0.00) scale(1.195,1)" font-size="16.95" font-style="italic" font-family="Liberation Serif, serif" fill="#111" stroke="#fff" stroke-width="0.16">N</text><text transform="translate(14.11,1.90) scale(1.101,1)" font-size="11.36" font-family="Liberation Serif, serif" fill="#111">eff</text>
</g>
</svg>
</body></html>
